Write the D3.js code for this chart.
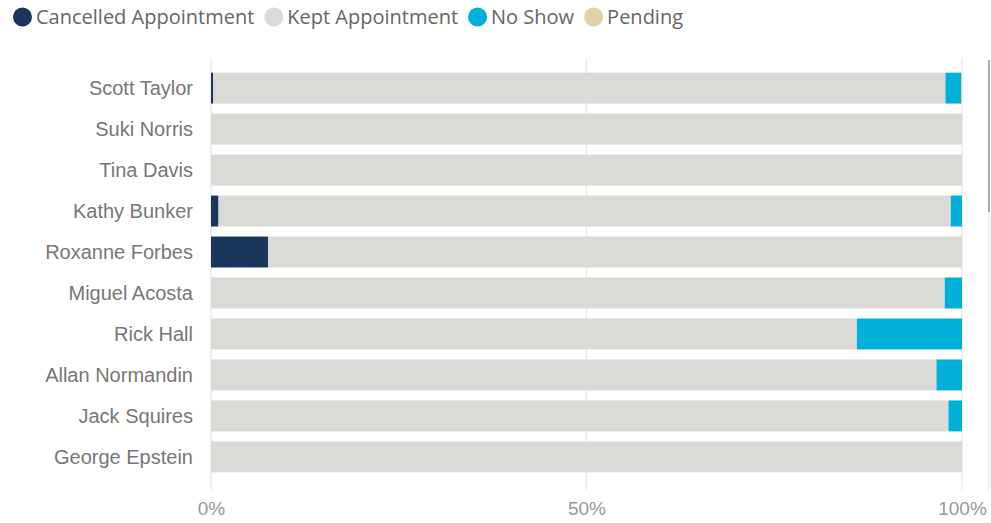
<!DOCTYPE html>
<html><head><meta charset="utf-8">
<script src="https://cdn.jsdelivr.net/npm/d3@7"></script>
<style>body{margin:0;background:#fff;}svg{display:block;font-family:"Segoe UI","Open Sans","Noto Sans",sans-serif;}</style>
</head><body>
<svg id="c" width="991" height="523"></svg>
<script>
const names = ["Scott Taylor","Suki Norris","Tina Davis","Kathy Bunker","Roxanne Forbes","Miguel Acosta","Rick Hall","Allan Normandin","Jack Squires","George Epstein"];
const seriesNames = ["Cancelled Appointment","Kept Appointment","No Show","Pending"];
const colors = ["#1b365d","#dadad6","#01b0d9","#e0d2a6"];
const cancelled = [0.3,0,0,1.0,7.6,0,0,0,0,0];
const noShow   = [2.1,0,0,1.5,0,2.3,14.0,3.4,1.8,0];
const pending  = [0.1,0,0,0,0,0,0,0,0,0];
const kept = names.map((d,i)=>100-cancelled[i]-noShow[i]-pending[i]);
const tickVals = [0,50,100];

const rows = names.map((n,i)=>({name:n,"Cancelled Appointment":cancelled[i],"Kept Appointment":kept[i],"No Show":noShow[i],"Pending":pending[i]}));
const stacked = d3.stack().keys(seriesNames)(rows);

const svg = d3.select("#c");
const x = d3.scaleLinear().domain([0,100]).range([211,962]);
const y = d3.scaleBand().domain(names).range([62,483]).paddingInner(0.245).paddingOuter(0.26);

// gridlines
svg.append("g").selectAll("line").data(tickVals).join("line")
  .attr("x1",d=>x(d)).attr("x2",d=>x(d)).attr("y1",58).attr("y2",490)
  .attr("stroke","#ebebeb").attr("stroke-width",1.5);

// bars
svg.append("g").selectAll("g").data(stacked).join("g")
  .attr("fill",(d,i)=>colors[i])
  .selectAll("rect").data(d=>d).join("rect")
  .attr("x",d=>x(d[0])).attr("width",d=>Math.max(0,x(d[1])-x(d[0])))
  .attr("y",d=>y(d.data.name)).attr("height",y.bandwidth());

// y labels
const yAxis = d3.axisLeft(y).tickSize(0).tickPadding(0);
const yg = svg.append("g").attr("transform","translate(193,0)").call(yAxis);
yg.select(".domain").remove();
yg.selectAll("text").attr("fill","#777").attr("font-size",20).attr("font-family",null).attr("dy","0.35em");

// x labels
const xAxis = d3.axisBottom(x).tickValues(tickVals).tickFormat(d=>d+"%").tickSize(0);
const xg = svg.append("g").attr("transform","translate(0,498)").call(xAxis);
xg.select(".domain").remove();
xg.selectAll("text").attr("fill","#999").attr("font-size",19).attr("font-family",null);

// legend
const leg = svg.append("g");
let lx = 13;
seriesNames.forEach((s,i)=>{
  leg.append("circle").attr("cx",lx+9.5).attr("cy",17).attr("r",9.5).attr("fill",colors[i]);
  const t = leg.append("text").attr("x",lx+23).attr("y",17).attr("dy","0.35em")
    .attr("fill","#666").attr("font-size",20).text(s);
  lx += 23 + t.node().getComputedTextLength() + 10;
});

// scrollbar
svg.append("line").attr("x1",989).attr("x2",989).attr("y1",212).attr("y2",490).attr("stroke","#f0f0f0").attr("stroke-width",2);
svg.append("line").attr("x1",989).attr("x2",989).attr("y1",60).attr("y2",212).attr("stroke","#aaa").attr("stroke-width",2);
</script>
</body></html>
